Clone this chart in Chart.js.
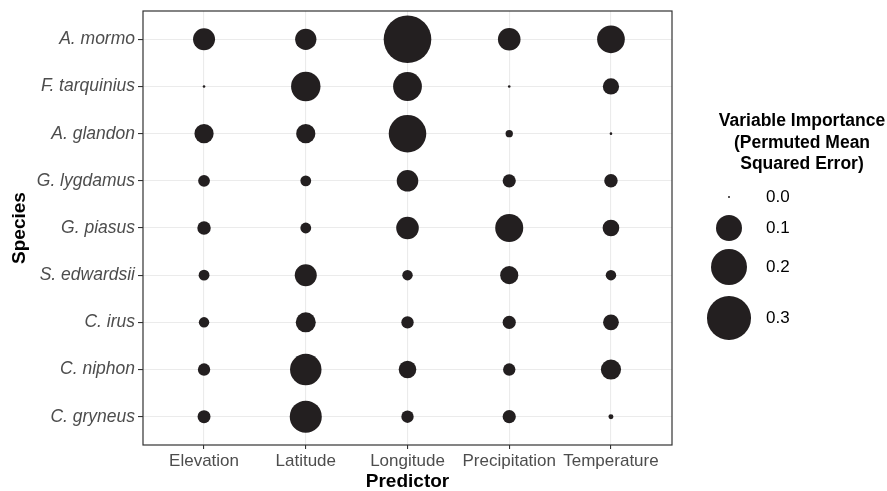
<!DOCTYPE html>
<html>
<head>
<meta charset="utf-8">
<script src="https://cdn.jsdelivr.net/npm/chart.js@4/dist/chart.umd.min.js"></script>
<style>
  html, body { margin: 0; padding: 0; background: #fff; }
  #wrap { position: relative; width: 887px; height: 491px; font-family: "Liberation Sans", Arial, sans-serif; }
  #legend { position: absolute; left: 0; top: 0; width: 887px; height: 491px; pointer-events: none; }
  .lg-title { position: absolute; left: 702px; width: 200px; text-align: center; font-weight: bold; font-size: 17.5px; line-height: 21.5px; color: #000; top: 110px; }
  .lg-key { position: absolute; background: #231f20; border-radius: 50%; }
  .lg-label { position: absolute; left: 766px; font-size: 17px; line-height: 20px; color: #000; }
</style>
</head>
<body>
<div id="wrap">
  <canvas id="bubbleChart" width="887" height="491"></canvas>
  <div id="legend"></div>
</div>
<script>
const predictors = ['Elevation', 'Latitude', 'Longitude', 'Precipitation', 'Temperature'];
const species = ['A. mormo', 'F. tarquinius', 'A. glandon', 'G. lygdamus', 'G. piasus',
                 'S. edwardsii', 'C. irus', 'C. niphon', 'C. gryneus'];

// permuted MSE importance, one value per species (same order as above)
const elevation     = [0.067, 0.000, 0.049, 0.015, 0.021, 0.012, 0.011, 0.017, 0.019];
const latitude      = [0.062, 0.128, 0.049, 0.012, 0.012, 0.067, 0.054, 0.148, 0.154];
const longitude     = [0.360, 0.122, 0.217, 0.064, 0.071, 0.011, 0.017, 0.040, 0.017];
const precipitation = [0.071, 0.000, 0.004, 0.020, 0.115, 0.043, 0.020, 0.017, 0.020];
const temperature   = [0.112, 0.033, 0.000, 0.021, 0.035, 0.011, 0.031, 0.055, 0.001];

const legendValues = [0.0, 0.1, 0.2, 0.3];
const legendLabels = ['0.0', '0.1', '0.2', '0.3'];

const importance = [elevation, latitude, longitude, precipitation, temperature];
const dotColor = '#231f20';

// area-ish size scale, same for plot and legend
function sizeOf(v) {
    return 1.3 + 37.5 * Math.sqrt(v);
}

const points = [];
importance.forEach((col, i) => {
    col.forEach((v, j) => {
        points.push({ x: i, y: j, v: v });
    });
});

// panel border like ggplot theme_bw
const panelBorder = {
    id: 'panelBorder',
    afterDatasetsDraw(chart) {
        const { ctx, chartArea: a } = chart;
        ctx.save();
        ctx.strokeStyle = '#333333';
        ctx.lineWidth = 1.2;
        ctx.strokeRect(a.left, a.top, a.right - a.left, a.bottom - a.top);
        ctx.restore();
    }
};

const ctx = document.getElementById('bubbleChart').getContext('2d');
new Chart(ctx, {
    type: 'bubble',
    data: {
        datasets: [{
            data: points,
            backgroundColor: dotColor,
            borderWidth: 0,
            radius: c => sizeOf(c.raw.v),
            hoverRadius: 0
        }]
    },
    options: {
        responsive: false,
        animation: false,
        events: [],
        layout: { autoPadding: false, padding: { top: 11, right: 215, bottom: 0, left: 0 } },
        plugins: { legend: { display: false }, tooltip: { enabled: false } },
        scales: {
            x: {
                type: 'linear',
                min: -0.6,
                max: 4.6,
                afterBuildTicks: s => { s.ticks = predictors.map((p, i) => ({ value: i })); },
                afterFit: s => { s.height = 46; s.paddingLeft = 0; s.paddingRight = 0; },
                grid: { color: '#ebebeb', lineWidth: 1.1, tickColor: '#333333', tickLength: 4, drawTicks: true },
                border: { display: false },
                ticks: {
                    autoSkip: false,
                    maxRotation: 0,
                    padding: 2,
                    color: '#4d4d4d',
                    font: { family: '"Liberation Sans", Arial, sans-serif', size: 17 },
                    callback: v => predictors[v]
                },
                title: {
                    display: true,
                    text: 'Predictor',
                    color: '#000',
                    padding: 0,
                    font: { family: '"Liberation Sans", Arial, sans-serif', size: 19, weight: 'bold', lineHeight: 1 }
                }
            },
            y: {
                type: 'linear',
                reverse: true,
                min: -0.6,
                max: 8.6,
                afterBuildTicks: s => { s.ticks = species.map((p, i) => ({ value: i })); },
                afterFit: s => { s.width = 143; s.paddingTop = 0; s.paddingBottom = 0; },
                grid: { color: '#ebebeb', lineWidth: 1.1, tickColor: '#333333', tickLength: 5, drawTicks: true },
                border: { display: false },
                ticks: {
                    autoSkip: false,
                    padding: 3,
                    color: '#4d4d4d',
                    font: { family: '"Liberation Sans", Arial, sans-serif', size: 17.5, style: 'italic' },
                    callback: v => species[v]
                },
                title: {
                    display: true,
                    text: 'Species',
                    color: '#000',
                    padding: { top: 8, bottom: 0 },
                    font: { family: '"Liberation Sans", Arial, sans-serif', size: 19, weight: 'bold' }
                }
            }
        }
    },
    plugins: [panelBorder]
});

// size legend
const legendRowY = [197, 228, 267, 318];
const legend = document.getElementById('legend');
const title = document.createElement('div');
title.className = 'lg-title';
title.innerHTML = 'Variable Importance<br>(Permuted Mean<br>Squared Error)';
legend.appendChild(title);
legendValues.forEach((v, i) => {
    const r = sizeOf(v);
    const key = document.createElement('div');
    key.className = 'lg-key';
    key.style.width = (2 * r) + 'px';
    key.style.height = (2 * r) + 'px';
    key.style.left = (729 - r) + 'px';
    key.style.top = (legendRowY[i] - r) + 'px';
    legend.appendChild(key);
    const lab = document.createElement('div');
    lab.className = 'lg-label';
    lab.textContent = legendLabels[i];
    lab.style.top = (legendRowY[i] - 10) + 'px';
    legend.appendChild(lab);
});
</script>
</body>
</html>
